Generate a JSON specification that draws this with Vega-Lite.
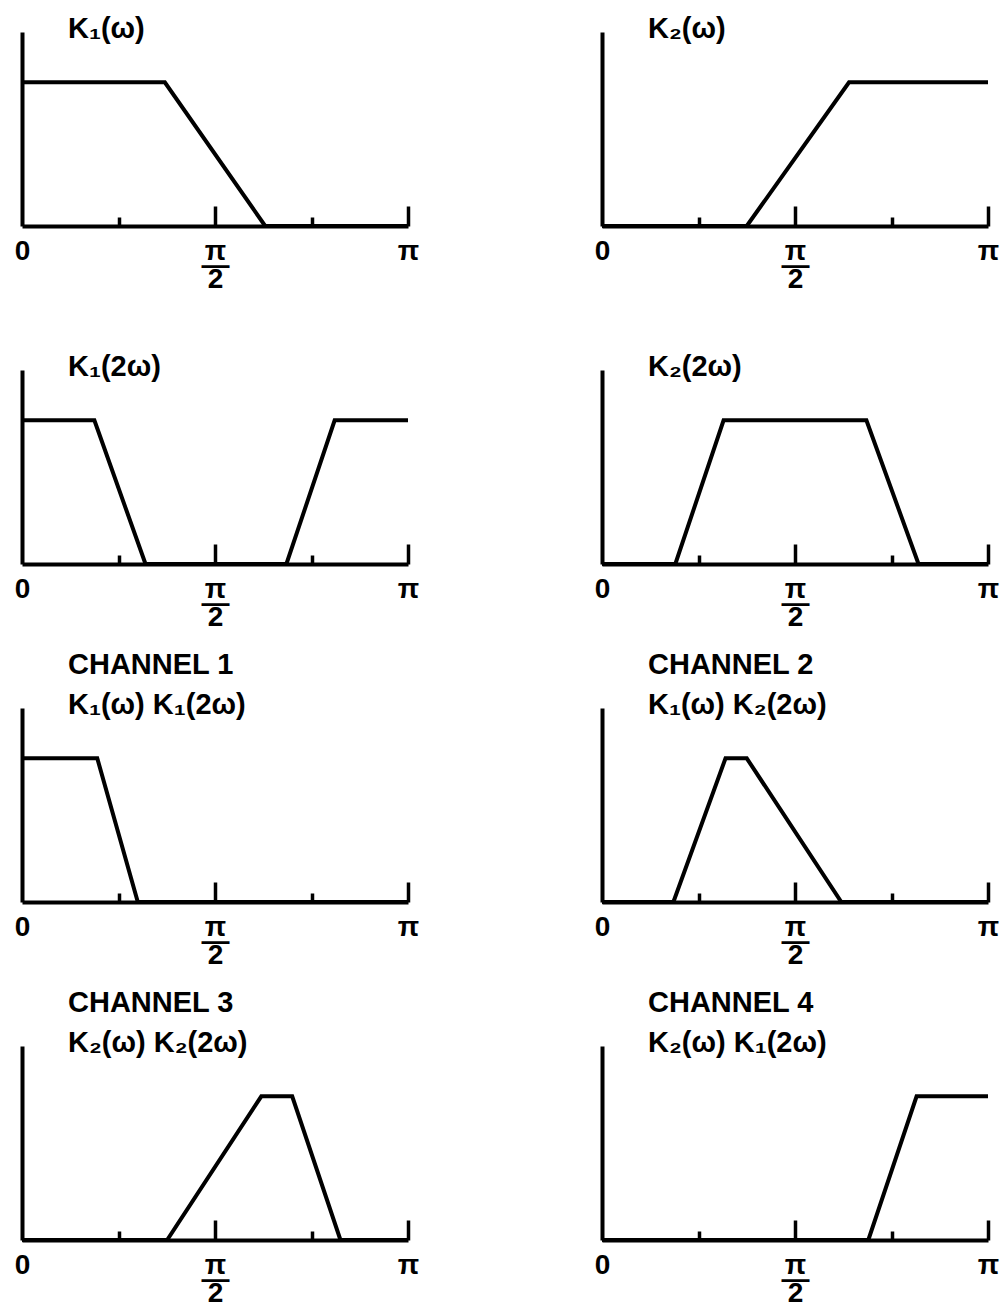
{
  "$schema": "https://vega.github.io/schema/vega-lite/v6.json",
  "background": "white",
  "padding": {"left": 14, "top": 15, "right": 10, "bottom": 0},
  "datasets": {
    "curves": [
      {"panel": "K1w", "w": 0, "k": 1}, {"panel": "K1w", "w": 0.37, "k": 1}, {"panel": "K1w", "w": 0.63, "k": 0}, {"panel": "K1w", "w": 1, "k": 0},
      {"panel": "K2w", "w": 0, "k": 0}, {"panel": "K2w", "w": 0.375, "k": 0}, {"panel": "K2w", "w": 0.64, "k": 1}, {"panel": "K2w", "w": 1, "k": 1},
      {"panel": "K1_2w", "w": 0, "k": 1}, {"panel": "K1_2w", "w": 0.1875, "k": 1}, {"panel": "K1_2w", "w": 0.32, "k": 0}, {"panel": "K1_2w", "w": 0.685, "k": 0}, {"panel": "K1_2w", "w": 0.81, "k": 1}, {"panel": "K1_2w", "w": 1, "k": 1},
      {"panel": "K2_2w", "w": 0, "k": 0}, {"panel": "K2_2w", "w": 0.19, "k": 0}, {"panel": "K2_2w", "w": 0.315, "k": 1}, {"panel": "K2_2w", "w": 0.685, "k": 1}, {"panel": "K2_2w", "w": 0.82, "k": 0}, {"panel": "K2_2w", "w": 1, "k": 0},
      {"panel": "CH1", "w": 0, "k": 1}, {"panel": "CH1", "w": 0.195, "k": 1}, {"panel": "CH1", "w": 0.3, "k": 0}, {"panel": "CH1", "w": 1, "k": 0},
      {"panel": "CH2", "w": 0, "k": 0}, {"panel": "CH2", "w": 0.185, "k": 0}, {"panel": "CH2", "w": 0.32, "k": 1}, {"panel": "CH2", "w": 0.375, "k": 1}, {"panel": "CH2", "w": 0.62, "k": 0}, {"panel": "CH2", "w": 1, "k": 0},
      {"panel": "CH3", "w": 0, "k": 0}, {"panel": "CH3", "w": 0.376, "k": 0}, {"panel": "CH3", "w": 0.62, "k": 1}, {"panel": "CH3", "w": 0.7, "k": 1}, {"panel": "CH3", "w": 0.825, "k": 0}, {"panel": "CH3", "w": 1, "k": 0},
      {"panel": "CH4", "w": 0, "k": 0}, {"panel": "CH4", "w": 0.69, "k": 0}, {"panel": "CH4", "w": 0.815, "k": 1}, {"panel": "CH4", "w": 1, "k": 1}
    ]
  },
  "columns": 2,
  "spacing": {"row": 144, "column": 194},
  "bounds": "flush",
  "concat": [
    {
      "width": 386, "height": 194,
      "title": {"text": "K₁(ω)"},
      "data": {"name": "curves"},
      "transform": [{"filter": "datum.panel == 'K1w'"}],
      "mark": {"type": "line", "color": "black", "strokeWidth": 4},
      "encoding": {
        "x": {"field": "w", "type": "quantitative", "scale": {"domain": [0, 1]}, "axis": {"values": [0, 0.25, 0.5, 0.75, 1]}},
        "y": {"field": "k", "type": "quantitative", "scale": {"domain": [0, 1.35]}}
      }
    },
    {
      "width": 386, "height": 194,
      "title": {"text": "K₂(ω)"},
      "data": {"name": "curves"},
      "transform": [{"filter": "datum.panel == 'K2w'"}],
      "mark": {"type": "line", "color": "black", "strokeWidth": 4},
      "encoding": {
        "x": {"field": "w", "type": "quantitative", "scale": {"domain": [0, 1]}, "axis": {"values": [0, 0.25, 0.5, 0.75, 1]}},
        "y": {"field": "k", "type": "quantitative", "scale": {"domain": [0, 1.35]}}
      }
    },
    {
      "width": 386, "height": 194,
      "title": {"text": "K₁(2ω)"},
      "data": {"name": "curves"},
      "transform": [{"filter": "datum.panel == 'K1_2w'"}],
      "mark": {"type": "line", "color": "black", "strokeWidth": 4},
      "encoding": {
        "x": {"field": "w", "type": "quantitative", "scale": {"domain": [0, 1]}, "axis": {"values": [0, 0.25, 0.5, 0.75, 1]}},
        "y": {"field": "k", "type": "quantitative", "scale": {"domain": [0, 1.35]}}
      }
    },
    {
      "width": 386, "height": 194,
      "title": {"text": "K₂(2ω)"},
      "data": {"name": "curves"},
      "transform": [{"filter": "datum.panel == 'K2_2w'"}],
      "mark": {"type": "line", "color": "black", "strokeWidth": 4},
      "encoding": {
        "x": {"field": "w", "type": "quantitative", "scale": {"domain": [0, 1]}, "axis": {"values": [0, 0.25, 0.5, 0.75, 1]}},
        "y": {"field": "k", "type": "quantitative", "scale": {"domain": [0, 1.35]}}
      }
    },
    {
      "width": 386, "height": 194,
      "title": {"text": ["CHANNEL 1", "K₁(ω) K₁(2ω)"]},
      "data": {"name": "curves"},
      "transform": [{"filter": "datum.panel == 'CH1'"}],
      "mark": {"type": "line", "color": "black", "strokeWidth": 4},
      "encoding": {
        "x": {"field": "w", "type": "quantitative", "scale": {"domain": [0, 1]}, "axis": {"values": [0, 0.25, 0.5, 0.75, 1]}},
        "y": {"field": "k", "type": "quantitative", "scale": {"domain": [0, 1.35]}}
      }
    },
    {
      "width": 386, "height": 194,
      "title": {"text": ["CHANNEL 2", "K₁(ω) K₂(2ω)"]},
      "data": {"name": "curves"},
      "transform": [{"filter": "datum.panel == 'CH2'"}],
      "mark": {"type": "line", "color": "black", "strokeWidth": 4},
      "encoding": {
        "x": {"field": "w", "type": "quantitative", "scale": {"domain": [0, 1]}, "axis": {"values": [0, 0.25, 0.5, 0.75, 1]}},
        "y": {"field": "k", "type": "quantitative", "scale": {"domain": [0, 1.35]}}
      }
    },
    {
      "width": 386, "height": 194,
      "title": {"text": ["CHANNEL 3", "K₂(ω) K₂(2ω)"]},
      "data": {"name": "curves"},
      "transform": [{"filter": "datum.panel == 'CH3'"}],
      "mark": {"type": "line", "color": "black", "strokeWidth": 4},
      "encoding": {
        "x": {"field": "w", "type": "quantitative", "scale": {"domain": [0, 1]}, "axis": {"values": [0, 0.25, 0.5, 0.75, 1]}},
        "y": {"field": "k", "type": "quantitative", "scale": {"domain": [0, 1.35]}}
      }
    },
    {
      "width": 386, "height": 194,
      "title": {"text": ["CHANNEL 4", "K₂(ω) K₁(2ω)"]},
      "data": {"name": "curves"},
      "transform": [{"filter": "datum.panel == 'CH4'"}],
      "mark": {"type": "line", "color": "black", "strokeWidth": 4},
      "encoding": {
        "x": {"field": "w", "type": "quantitative", "scale": {"domain": [0, 1]}, "axis": {"values": [0, 0.25, 0.5, 0.75, 1]}},
        "y": {"field": "k", "type": "quantitative", "scale": {"domain": [0, 1.35]}}
      }
    }
  ],
  "config": {
    "view": {"stroke": null},
    "font": "Liberation Sans",
    "title": {
      "anchor": "start", "frame": "group", "dx": 46, "offset": -12, "baseline": "bottom",
      "font": "Liberation Sans", "fontSize": 29, "fontWeight": "bold", "color": "black", "lineHeight": 40
    },
    "axisX": {
      "title": null, "grid": false, "domainColor": "black", "domainWidth": 4,
      "labelExpr": "datum.value == 0 ? '0' : datum.value == 0.5 ? ['π', '—', '2'] : datum.value == 1 ? 'π' : ''",
      "ticks": true, "tickSize": -20, "tickColor": "black", "tickWidth": 3.5,
      "tickDash": {"condition": {"test": "datum.value == 0.5 || datum.value == 1", "value": [40, 0]}, "value": [9, 40]},
      "tickOpacity": {"condition": {"test": "datum.value == 0", "value": 0}, "value": 1},
      "labelFont": "Liberation Sans", "labelFontSize": 28, "labelFontWeight": "bold", "labelColor": "black",
      "labelBaseline": "top", "labelPadding": 31, "labelLineHeight": 14,
      "labelOverlap": false, "labelFlush": false, "labelBound": false
    },
    "axisY": {
      "title": null, "grid": false, "domainColor": "black", "domainWidth": 4,
      "ticks": false, "labels": false
    }
  }
}
